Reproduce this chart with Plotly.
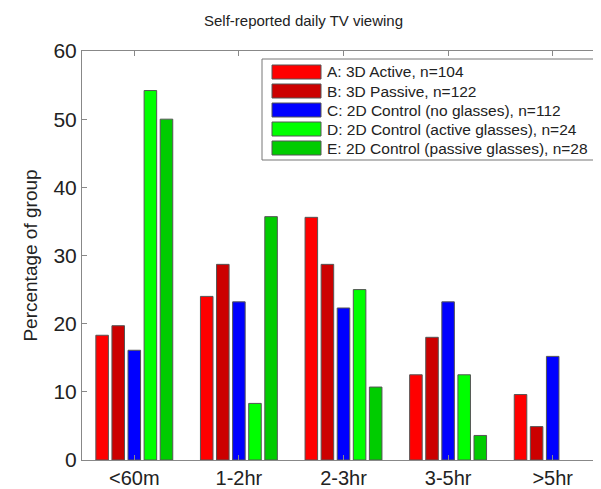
import plotly.graph_objects as go

categories = ["<60m", "1-2hr", "2-3hr", "3-5hr", ">5hr"]
series_names = [
    "A: 3D Active, n=104",
    "B: 3D Passive, n=122",
    "C: 2D Control (no glasses), n=112",
    "D: 2D Control (active glasses), n=24",
    "E: 2D Control (passive glasses), n=28",
]
a_vals = [18.3, 24.0, 35.6, 12.5, 9.6]
b_vals = [19.7, 28.7, 28.7, 18.0, 4.9]
c_vals = [16.1, 23.2, 22.3, 23.2, 15.2]
d_vals = [54.2, 8.3, 25.0, 12.5, 0.0]
e_vals = [50.0, 35.7, 10.7, 3.6, 0.0]
series_values = [a_vals, b_vals, c_vals, d_vals, e_vals]
colors = ["#FF0000", "#CC0000", "#0000FF", "#00FF00", "#00CC00"]
y_ticks = [0, 10, 20, 30, 40, 50, 60]

OFF = 8  # page body margin
W, H = 601 - OFF, 489 - OFF
# plot area in page pixels
L, R_PX, T, B_PX = 82, 601, 51, 460
FONT = "Liberation Sans, Arial, sans-serif"

xpos = list(range(1, len(categories) + 1))

fig = go.Figure()
for name, vals, col in zip(series_names, series_values, colors):
    fig.add_trace(go.Bar(
        x=xpos, y=vals, name=name,
        marker=dict(color=col,
                    line=dict(color="#555555", width=[1 if v > 0 else 0 for v in vals])),
        showlegend=False,
    ))

ppu = 104.6
xmax = 0.5 + (R_PX - L) / ppu

def px_x(p):
    return (p - L) / (R_PX - L)

def px_y(p):
    return (B_PX - p) / (B_PX - T)

shapes = []
annotations = []
shapes.append(dict(type="rect", xref="paper", yref="paper",
                   x0=px_x(262), x1=px_x(596), y0=px_y(160), y1=px_y(59),
                   line=dict(color="#777777", width=1), fillcolor="white", layer="above"))
row_y = [72, 91, 110, 129, 148]
for name, col, ry in zip(series_names, colors, row_y):
    shapes.append(dict(type="rect", xref="paper", yref="paper",
                       x0=px_x(272), x1=px_x(321), y0=px_y(ry + 7), y1=px_y(ry - 7),
                       line=dict(color="#555555", width=1), fillcolor=col, layer="above"))
    annotations.append(dict(text=name, xref="paper", yref="paper",
                            x=px_x(325), y=px_y(ry), xanchor="left", yanchor="middle",
                            showarrow=False, font=dict(family=FONT, size=15.5, color="#222222")))

annotations.append(dict(text="Self-reported daily TV viewing", xref="paper", yref="paper",
                        x=px_x(303), y=px_y(21), xanchor="center", yanchor="middle",
                        showarrow=False, font=dict(family=FONT, size=15, color="#222222")))

fig.update_layout(
    width=W, height=H,
    margin=dict(l=L - OFF, r=W - (R_PX - OFF), t=T - OFF, b=H - (B_PX - OFF), pad=0,
                autoexpand=False),
    paper_bgcolor="white", plot_bgcolor="white",
    barmode="group", bargap=0.231, bargroupgap=0.22,
    shapes=shapes, annotations=annotations,
    font=dict(family=FONT, color="#222222"),
)
fig.update_xaxes(
    range=[0.5, xmax], tickvals=xpos, ticktext=categories,
    showline=True, linecolor="#888888", linewidth=1, mirror="ticks",
    ticks="inside", ticklen=5, tickcolor="#888888",
    showgrid=False, zeroline=False,
    tickfont=dict(family=FONT, size=20, color="#222222"),
)
fig.update_yaxes(
    range=[0, 60], tickvals=y_ticks,
    showline=True, linecolor="#888888", linewidth=1, mirror=False,
    ticks="inside", ticklen=5, tickcolor="#888888",
    showgrid=False, zeroline=False,
    tickfont=dict(family=FONT, size=21, color="#222222"),
    title=dict(text="Percentage of group", font=dict(family=FONT, size=19, color="#222222"), standoff=10),
)

fig.write_html("out.html")
